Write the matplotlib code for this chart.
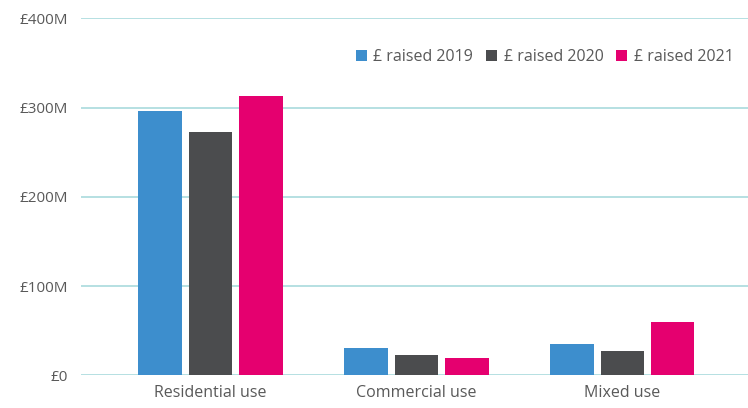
import numpy as np
import matplotlib.pyplot as plt

# values in £ millions
categories = ['Residential use', 'Commercial use', 'Mixed use']
series = ['£ raised 2019', '£ raised 2020', '£ raised 2021']
raised_2019 = [296.5, 30.7, 34.8]
raised_2020 = [273, 22.5, 27.3]
raised_2021 = [313.3, 19.1, 59.6]
y_ticks = [0, 100, 200, 300, 400]
y_labels = ['£0', '£100M', '£200M', '£300M', '£400M']

colors = ['#3d8ecd', '#4b4c4e', '#e5006f']
text_color = '#595959'
grid_color = '#a9dadd'

plt.rcParams['font.family'] = ['Open Sans', 'DejaVu Sans']

fig = plt.figure(figsize=(7.48, 4.08), dpi=100)
ax = fig.add_axes([0.108, 0.0797, 0.892, 0.875])

x = np.arange(len(categories))
step = 0.245
width = 0.21
for i, (vals, label, c) in enumerate(zip([raised_2019, raised_2020, raised_2021], series, colors)):
    ax.bar(x + (i - 1) * step, vals, width=width, color=c, label=label, zorder=3)

ax.set_xlim(-0.63, 2.61)
ax.set_ylim(0, 400)
ax.set_yticks(y_ticks)
ax.set_yticklabels(y_labels)
ax.set_xticks(x)
ax.set_xticklabels(categories)
ax.grid(axis='y', color=grid_color, linewidth=1.2, zorder=0)
ax.tick_params(axis='y', length=0, labelsize=11, colors=text_color, pad=9)
ax.tick_params(axis='x', length=0, labelsize=11.5, colors=text_color, pad=7)
for s in ax.spines.values():
    s.set_visible(False)

leg = ax.legend(loc='upper right', bbox_to_anchor=(1.0, 0.955), ncol=3, frameon=False,
                handlelength=0.7, handleheight=0.7, handletextpad=0.4, columnspacing=0.8,
                fontsize=11.5, labelcolor=text_color)

fig.savefig('out.png', dpi=100)
